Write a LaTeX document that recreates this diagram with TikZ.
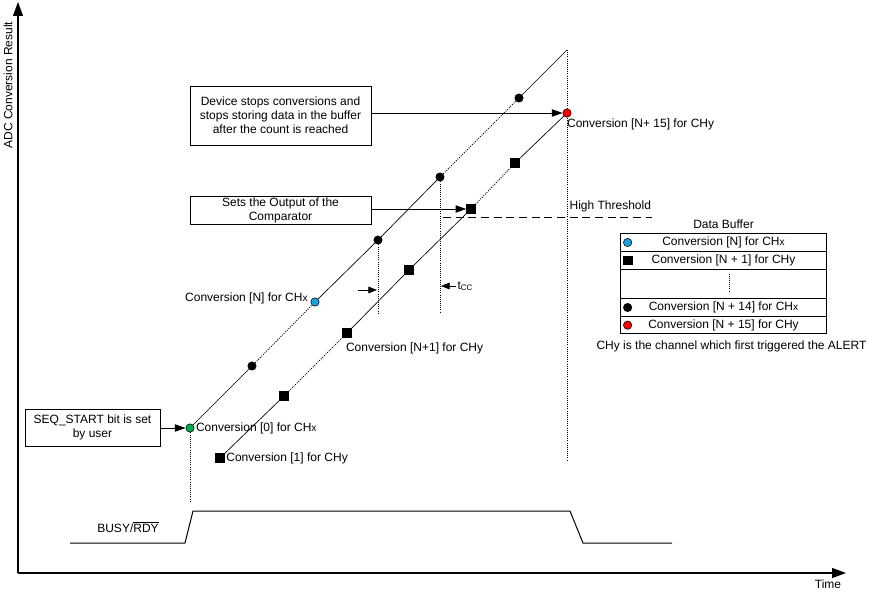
\documentclass[tikz,border=0pt]{standalone}
\usepackage{fontspec}
\setmainfont{Liberation Sans}
\usepackage{xcolor}
\usetikzlibrary{arrows.meta, positioning}

\definecolor{dotgreen}{RGB}{0,168,80}
\definecolor{dotblue}{RGB}{25,160,225}
\definecolor{dotred}{RGB}{255,0,0}
\newcommand{\chx}{CH{\fontsize{7.6}{7.6}\selectfont x}}

\tikzset{
  ptdot/.style={circle, draw=black, line width=0.4pt, fill=black, inner sep=0pt, minimum size=6.3pt},
  ptsq/.style={rectangle, fill=black, inner sep=0pt, minimum size=6.8pt},
  note/.style={draw, line width=0.75pt, align=center, inner sep=0pt},
  ramp/.style={line width=0.5pt},
  gap/.style={line width=0.7pt, densely dotted},
  guide/.style={line width=0.6pt, densely dotted},
  lbl/.style={inner sep=1pt},
  bufrow/.style={draw, line width=0.75pt, minimum width=154.5pt, inner sep=0pt, outer sep=0pt},
}

\begin{document}
\begin{tikzpicture}[x=0.75pt, y=-0.75pt, font=\fontsize{9}{10.6}\selectfont,
  >={Triangle[length=8pt, width=5.5pt]}]
  \useasboundingbox (0,0) rectangle (870,592);

  % axes
  \coordinate (orig) at (18,573);
  \coordinate (ytip) at (18,2);
  \coordinate (xtip) at (846,573);
  \draw[line width=0.9pt, -{Triangle[length=10.5pt, width=7.5pt]}] (orig) -- (ytip);
  \draw[line width=0.9pt, -{Triangle[length=10.5pt, width=7.5pt]}] (orig) -- (xtip);
  \node[rotate=90] (ylab) at (8,85) {ADC Conversion Result};
  \node (tlab) at (828,584) {Time};

  % CHx samples (upper ramp)
  \node[ptdot, fill=dotgreen] (x0) at (190,428) {};
  \node[ptdot] (x1) at (252,366) {};
  \node[ptdot, fill=dotblue] (x2) at (315,302) {};
  \node[ptdot] (x3) at (378,240) {};
  \node[ptdot] (x4) at (440,177) {};
  \node[ptdot] (x5) at (519,98) {};
  \coordinate (xtop) at (567,50);
  \draw[ramp] (x0) -- (x1);
  \draw[gap] (x1) -- (x2);
  \draw[ramp] (x2) -- (x3) -- (x4);
  \draw[gap] (x4) -- (x5);
  \draw[ramp] (x5) -- (xtop);

  % CHy samples (lower ramp)
  \node[ptsq] (y0) at (220,458) {};
  \node[ptsq] (y1) at (284,396) {};
  \node[ptsq] (y2) at (347,333) {};
  \node[ptsq] (y3) at (409,270) {};
  \node[ptsq] (y4) at (471,209) {};
  \node[ptsq] (y5) at (515,163) {};
  \coordinate (yend) at (567,113);
  \draw[ramp] (y0) -- (y1);
  \draw[gap] (y1) -- (y2);
  \draw[ramp] (y2) -- (y3) -- (y4);
  \draw[gap] (y4) -- (y5);
  \draw[ramp] (y5) -- (yend);

  % vertical guides
  \coordinate (g0) at (190,502);
  \coordinate (g3) at (378,313);
  \coordinate (g4) at (440,313);
  \coordinate (g6) at (567,460);
  \draw[guide] (x0) -- (g0);
  \draw[guide] (x3) -- (g3);
  \draw[guide] (x4) -- (g4);
  \draw[guide] (xtop) -- (g6);
  \node[ptdot, fill=dotred] (y6) at (yend) {};

  % high threshold
  \coordinate (th0) at (443,217);
  \coordinate (th1) at (652,217);
  \draw[line width=0.75pt, dash pattern=on 6pt off 3.5pt] (th0) -- (th1);
  \node[lbl, anchor=south west] (thlab) at (568,214) {High Threshold};

  % t_CC marks
  \coordinate (tc0) at (358,290);
  \coordinate (tc1) at (377,290);
  \draw[line width=0.6pt, -{Triangle[length=6.5pt, width=5pt]}] (tc0) -- (tc1);
  \node[lbl, anchor=west] (tcc) at (456,286) {t\textsubscript{CC}};
  \coordinate (tc2) at (441,286);
  \draw[line width=0.6pt, -{Triangle[length=6.5pt, width=5pt]}] (tcc.west) -- (tc2);

  % sample labels
  \node[lbl, right=0pt of x0] (l0) {Conversion [0] for \chx};
  \node[lbl, right=0pt of y0] (l1) {Conversion [1] for CHy};
  \node[lbl, left=1pt of x2, yshift=3pt] (ln) {Conversion [N] for \chx};
  \node[lbl, below right=3.2pt and -4.5pt of y2, inner sep=0pt] (ln1) {Conversion [N+1] for CHy};
  \node[lbl, below right=2pt and -2.5pt of y6, inner sep=0pt] (ln15) {Conversion [N+ 15] for CHy};

  % callout boxes
  \node[note, minimum width=135.75pt, minimum height=44.25pt] (stopbox) at (280.5,115.5)
    {Device stops conversions and\\ stops storing data in the buffer\\ after the count is reached};
  \node[note, minimum width=135.75pt, minimum height=21pt] (cmpbox) at (280.5,210)
    {Sets the Output of the\\ Comparator};
  \node[note, minimum width=101.25pt, minimum height=27.75pt] (seqbox) at (92.5,427.5)
    {SEQ\_START bit is set\\ by user};
  \draw[line width=0.75pt, ->] (stopbox.east |- y6) -- (y6.west);
  \draw[line width=0.75pt, ->] (cmpbox.east |- y4) -- (y4.west);
  \draw[line width=0.75pt, ->] (seqbox.east |- x0) -- (x0.west);

  % data buffer
  \node[bufrow, minimum height=13.5pt] (r1) at (723.5,242.5) {Conversion [N] for \chx};
  \node[bufrow, minimum height=13.5pt, below=0pt of r1] (r2) {Conversion [N + 1] for CHy};
  \node[bufrow, minimum height=21.75pt, below=0pt of r2] (r3) {};
  \node[bufrow, minimum height=13.5pt, below=0pt of r3] (r4) {Conversion [N + 14] for \chx};
  \node[bufrow, minimum height=13pt, below=0pt of r4] (r5) {Conversion [N + 15] for CHy};
  \draw[guide, line width=0.5pt] ([xshift=4pt, yshift=-3pt]r3.north) -- ([xshift=4pt, yshift=5pt]r3.south);
  \node[ptdot, fill=dotblue, right=2pt of r1.west] (k1) {};
  \node[ptsq, right=2pt of r2.west] (k2) {};
  \node[ptdot, right=2pt of r4.west] (k4) {};
  \node[ptdot, fill=dotred, right=2pt of r5.west] (k5) {};
  \node[above=0pt of r1] (buflab) {Data Buffer};
  \node[below=2pt of r5, xshift=6pt] (alert) {CHy is the channel which first triggered the ALERT};

  % BUSY/RDY signal
  \coordinate (b0) at (70,543);
  \coordinate (b1) at (185,543);
  \coordinate (b2) at (193,511);
  \coordinate (b3) at (570,511);
  \coordinate (b4) at (583,543);
  \coordinate (b5) at (672,543);
  \draw[line width=0.75pt] (b0) -- (b1) -- (b2) -- (b3) -- (b4) -- (b5);
  \node (busy) at (128,527) {BUSY/$\overline{\mbox{RDY}}$};
\end{tikzpicture}
\end{document}
